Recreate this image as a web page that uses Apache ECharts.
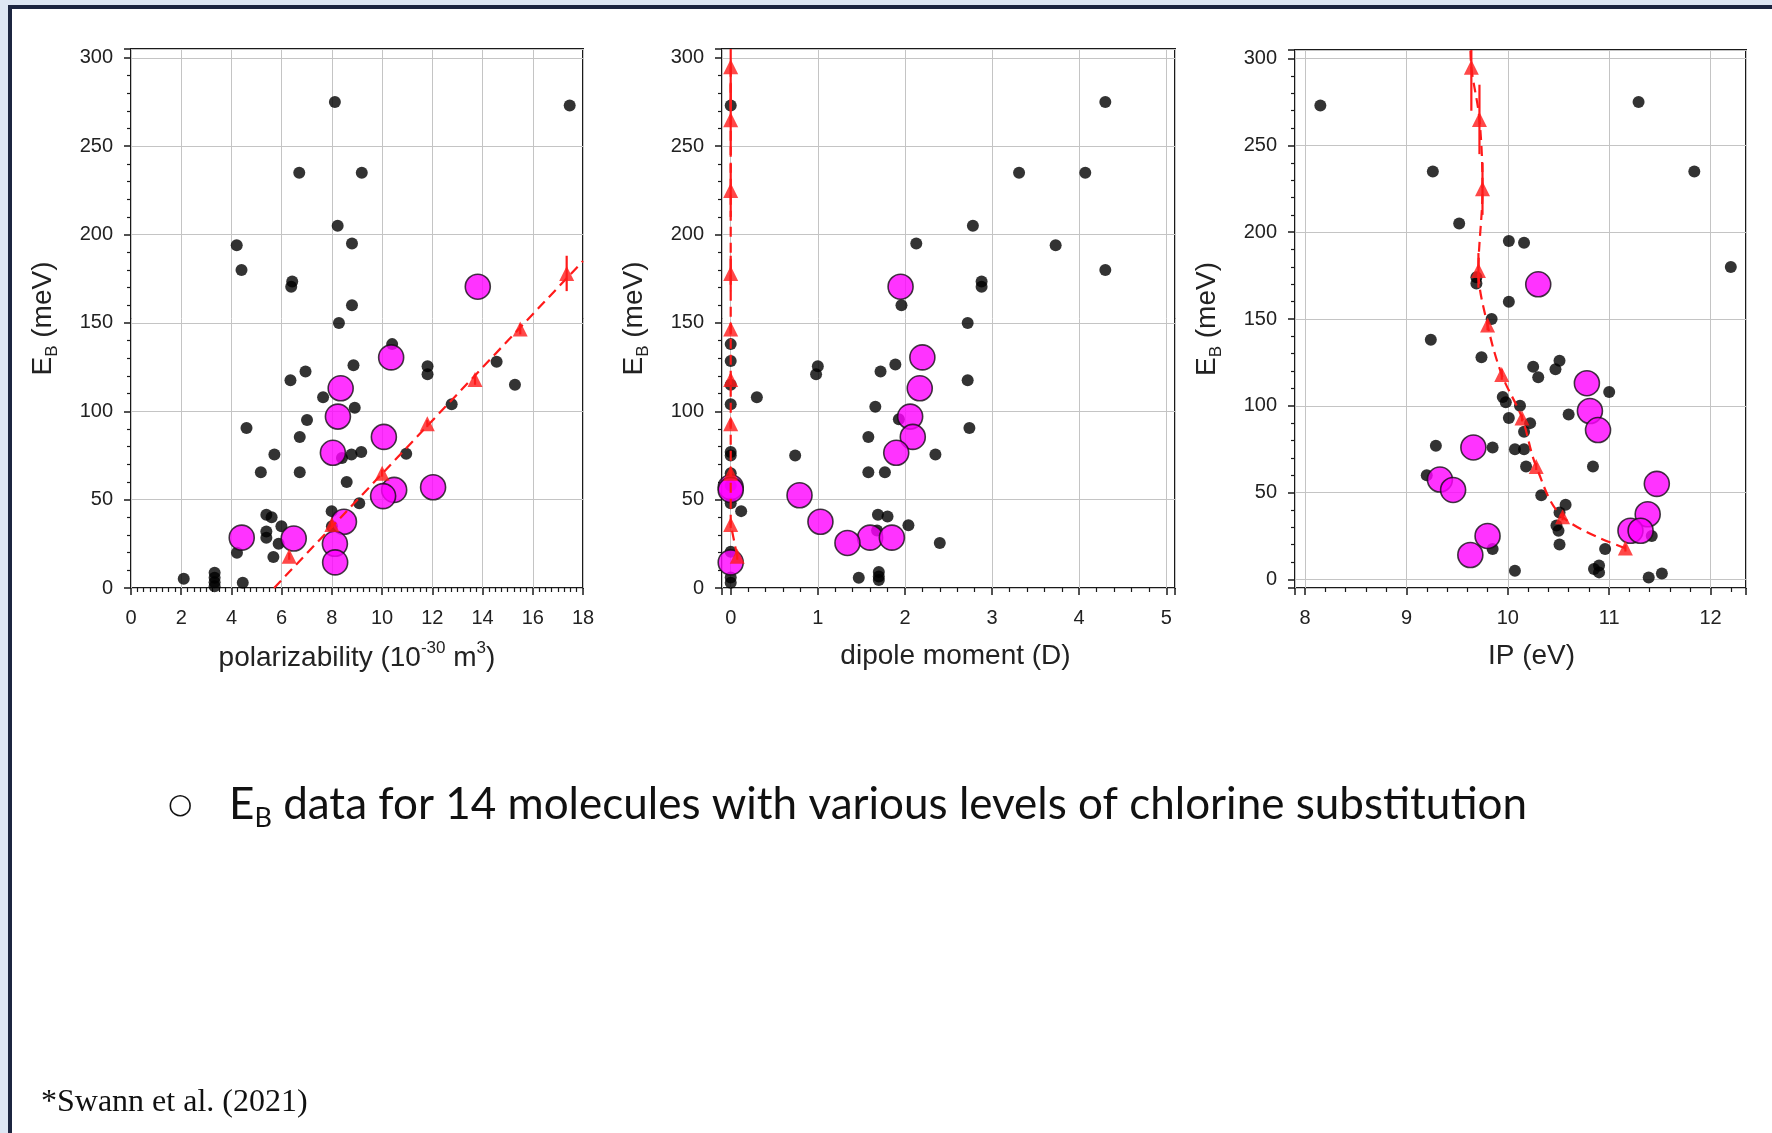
<!DOCTYPE html>
<html>
<head>
<meta charset="utf-8">
<script src="https://cdn.jsdelivr.net/npm/echarts@6/dist/echarts.min.js"></script>
<style>
  html, body { margin: 0; padding: 0; background: #ffffff; }
  #chart { width: 1772px; height: 1133px; }
</style>
</head>
<body>
<div id="chart"></div>
<script>
// ---- binding energy E_B (meV) of all molecules, against three descriptors ----
const polarBlackX = [8.12, 17.47, 6.70, 9.19, 8.23, 4.21, 8.80, 4.40, 6.42, 6.38, 8.80, 8.28, 10.40, 11.81, 11.81, 14.56, 8.86, 6.95, 6.35, 15.29, 7.65, 12.77, 8.91, 7.01, 4.60, 6.72, 5.71, 8.78, 9.17, 10.96, 8.40, 5.17, 6.72, 8.59, 9.09, 7.99, 5.39, 5.60, 8.00, 5.39, 5.39, 5.99, 5.88, 4.22, 5.67, 2.10, 3.33, 3.33, 3.33, 3.33, 4.45];
const polarBlackY = [275, 273, 235, 235, 205, 194, 195, 180, 173.5, 170.5, 160, 150, 138, 125.5, 121, 128, 126, 122.5, 117.5, 115, 108, 104, 102, 95, 90.5, 85.5, 75.5, 75.5, 77, 76, 73.5, 65.5, 65.5, 60, 48, 43.5, 41.5, 40, 35, 32, 28.5, 35, 25, 20, 17.5, 5.3, 8.6, 5.8, 3.3, 1, 3];

const dipoleBlackX = [4.30, 0, 3.31, 4.07, 2.78, 2.13, 3.73, 4.30, 2.88, 2.88, 1.96, 2.72, 0, 0, 1.00, 0.98, 1.89, 1.72, 2.72, 0, 0.30, 0, 1.66, 1.93, 2.74, 1.58, 0.74, 0, 0, 2.35, 1.58, 1.77, 0, 0, 0, 0.12, 1.69, 1.80, 2.04, 1.68, 2.40, 0, 0, 0, 1.47, 1.70, 1.70, 1.70];
const dipoleBlackY = [275, 273, 235, 235, 205, 195, 194, 180, 173.5, 170.5, 160, 150, 138, 128.5, 125.5, 121, 126.5, 122.5, 117.5, 115, 108, 104, 102.5, 95.5, 90.5, 85.5, 75, 77, 75, 75.5, 65.5, 65.5, 65, 58, 48, 43.5, 41.5, 40.5, 35.5, 32.5, 25.5, 20.5, 6, 3, 5.8, 9, 6.5, 4.5];

const ipBlackX = [8.15, 11.29, 9.26, 11.84, 9.52, 10.01, 10.16, 12.20, 9.69, 9.69, 10.01, 9.84, 9.24, 10.51, 10.47, 10.25, 9.74, 10.30, 11.00, 9.95, 9.98, 10.12, 10.60, 10.22, 10.01, 10.16, 9.29, 9.85, 10.07, 10.16, 10.18, 10.84, 9.20, 10.33, 10.57, 10.51, 10.48, 10.50, 10.51, 9.85, 10.96, 11.42, 10.07, 10.85, 10.90, 10.90, 11.39, 11.52];
const ipBlackY = [273, 275, 235, 235, 205, 195, 194, 180, 174, 170.5, 160, 150, 138, 126, 121, 122.5, 128, 116.5, 108, 105, 102, 100, 95, 90, 93, 85, 77, 76, 75, 75, 65, 65, 60, 48.5, 43, 38.5, 31, 28, 20, 17.5, 17.5, 25, 5, 6, 8, 4, 1, 3.3];

// ---- the 14 chlorine-substituted molecules ----
const polarClX = [13.81, 10.36, 8.35, 8.24, 10.07, 8.04, 12.03, 10.48, 10.04, 8.48, 4.41, 6.48, 8.12, 8.13];
const polarClY = [170.5, 130.5, 113, 97, 85.5, 76.5, 57, 55.5, 52, 37.5, 28.5, 28, 25, 14.5];
const dipoleClX = [1.95, 2.20, 2.17, 2.06, 2.09, 1.90, 0, 0, 0.79, 1.03, 1.60, 1.85, 1.34, 0];
const dipoleClY = [170.5, 130.5, 113, 97, 85.5, 76.5, 57, 55.5, 52.5, 37.5, 28.5, 28.5, 25.5, 14.5];
const ipClX = [10.30, 10.78, 10.81, 10.89, 9.66, 11.47, 9.33, 9.46, 11.38, 11.21, 11.31, 9.80, 9.63];
const ipClY = [170, 113, 97, 86, 76, 55, 57.5, 51.5, 37.5, 28, 28, 25, 14];

// ---- model series (red triangles) with uncertainties ----
const modelEB = [18, 36, 65, 93, 118, 146.5, 178, 225, 265, 295];
const modelErr = [2, 2, 2, 2, 3, 3, 10, 15, 20, 25];
const modelPolar = [6.3, 8.0, 10.0, 11.8, 13.7, 15.5, 17.35];
const modelDipole = [0.075, 0, 0, 0, 0, 0, 0, 0, 0, 0];
const modelIP = [11.16, 10.54, 10.28, 10.14, 9.94, 9.80, 9.71, 9.75, 9.72, 9.64];

// dashed trend through the model points
const polarTrendX = [5.7, 18];
const polarTrendY = [0, 185];
const ipTrendTopX = [9.63];
const ipTrendTopY = [310];

// tick labels
const polarTicks = [0, 2, 4, 6, 8, 10, 12, 14, 16, 18];
const dipoleTicks = [0, 1, 2, 3, 4, 5];
const ipTicks = [8, 9, 10, 11, 12];
const ebTicks = [0, 50, 100, 150, 200, 250, 300];

const pairs = (xs, ys) => xs.map((x, i) => [x, ys[i]]);
const triples = (xs, ys, es) => xs.map((x, i) => [x, ys[i], es[i]]);

const AXIS_FONT = '"Liberation Sans", Arial, sans-serif';
const RED = '#ff1a1a';

const panels = [
  { box: { left: 131, top: 49, width: 452, height: 539 },
    x: { min: 0, max: 18, interval: 2, minor: 8, ticks: polarTicks, gap: 52,
         name: '{t|polarizability (10}{sup|-30}{t| m}{sup|3}{t|)}', pad: [0, 0, 0, 0] },
    y: { min: 0, max: 305, interval: 50 } },
  { box: { left: 722, top: 49, width: 453, height: 539 },
    x: { min: -0.1, max: 5.1, minor: 5, ticks: dipoleTicks, gap: 50,
         name: '{t|dipole moment (D)}', pad: [0, 0, 0, 14] },
    y: { min: 0, max: 305, interval: 50 } },
  { box: { left: 1295, top: 50, width: 451, height: 538 },
    x: { min: 7.9, max: 12.35, minor: 5, ticks: ipTicks, gap: 50,
         name: '{t|IP (eV)}', pad: [0, 0, 0, 22] },
    y: { min: -5, max: 305 } }
];

const richName = {
  t: { fontSize: 28, fontFamily: AXIS_FONT, color: '#222', lineHeight: 36 },
  sup: { fontSize: 17, fontFamily: AXIS_FONT, color: '#222', verticalAlign: 'top', lineHeight: 20 },
  sub: { fontSize: 17, fontFamily: AXIS_FONT, color: '#222', verticalAlign: 'bottom', lineHeight: 17 }
};

const grid = [], xAxis = [], yAxis = [], series = [];

panels.forEach((p, i) => {
  grid.push(Object.assign({ show: true, borderColor: '#1a1a1a', borderWidth: 2, backgroundColor: '#fff', containLabel: false }, p.box));
  const common = {
    gridIndex: i,
    type: 'value',
    axisLine: { show: false, onZero: false },
    axisTick: { show: true, inside: false, length: 7, lineStyle: { color: '#1a1a1a', width: 1.5 } },
    minorTick: { show: true, length: 4, lineStyle: { color: '#1a1a1a', width: 1.2 } },
    splitLine: { show: true, lineStyle: { color: '#c4c4c4', width: 1 } },
    minorSplitLine: { show: false },
    axisLabel: { fontSize: 20, fontFamily: AXIS_FONT, color: '#222', showMinLabel: false, showMaxLabel: false }
  };
  const xa = Object.assign({}, common, {
    min: p.x.min, max: p.x.max,
    name: p.x.name, nameLocation: 'middle', nameGap: p.x.gap,
    nameTextStyle: { rich: richName, padding: p.x.pad },
    minorTick: Object.assign({}, common.minorTick, { splitNumber: p.x.minor }),
    axisLabel: Object.assign({}, common.axisLabel, { margin: 20,
      showMinLabel: p.x.ticks.indexOf(p.x.min) >= 0,
      showMaxLabel: p.x.ticks.indexOf(p.x.max) >= 0 })
  });
  if (p.x.interval) xa.interval = p.x.interval;
  xAxis.push(xa);
  const ya = Object.assign({}, common, {
    min: p.y.min, max: p.y.max,
    name: '{t|E}{sub|B}{t| (meV)}', nameLocation: 'middle', nameGap: 70, nameRotate: 90,
    nameTextStyle: { rich: richName },
    minorTick: Object.assign({}, common.minorTick, { splitNumber: 5 }),
    axisLabel: Object.assign({}, common.axisLabel, { margin: 18, showMinLabel: p.y.min === 0, showMaxLabel: false })
  });
  if (p.y.interval) ya.interval = p.y.interval;
  yAxis.push(ya);
});

function dots(i, xs, ys) {
  return { type: 'scatter', xAxisIndex: i, yAxisIndex: i, data: pairs(xs, ys), clip: false,
    symbol: 'circle', symbolSize: 12, itemStyle: { color: '#000' }, z: 2, silent: true };
}
function clDots(i, xs, ys) {
  return { type: 'scatter', xAxisIndex: i, yAxisIndex: i, data: pairs(xs, ys), clip: false,
    symbol: 'circle', symbolSize: 25, itemStyle: { color: '#ff00ff', borderColor: '#111', borderWidth: 1.6 }, z: 3, silent: true };
}
function trend(i, data, smooth) {
  return { type: 'line', xAxisIndex: i, yAxisIndex: i, data: data, showSymbol: false, smooth: smooth || false,
    clip: true, lineStyle: { color: RED, width: 2.2, type: [10, 6] }, z: 4, silent: true };
}
function triangles(i, xs, ys) {
  return { type: 'scatter', xAxisIndex: i, yAxisIndex: i, data: pairs(xs, ys), clip: true,
    symbol: 'triangle', symbolSize: 15, itemStyle: { color: RED }, z: 5, silent: true };
}
function errBars(i, xs, ys, es) {
  return { type: 'custom', xAxisIndex: i, yAxisIndex: i, data: triples(xs, ys, es), clip: true, z: 5, silent: true,
    renderItem: (params, api) => {
      const x = api.value(0), y = api.value(1), e = api.value(2);
      const a = api.coord([x, y - e]), b = api.coord([x, y + e]);
      return { type: 'line', shape: { x1: a[0], y1: a[1], x2: b[0], y2: b[1] },
        style: { stroke: RED, lineWidth: 2.2 } };
    } };
}

const nPolar = modelPolar.length;
series.push(
  dots(0, polarBlackX, polarBlackY),
  clDots(0, polarClX, polarClY),
  trend(0, pairs(polarTrendX, polarTrendY)),
  errBars(0, modelPolar, modelEB.slice(0, nPolar), modelErr.slice(0, nPolar)),
  triangles(0, modelPolar, modelEB.slice(0, nPolar)),

  dots(1, dipoleBlackX, dipoleBlackY),
  clDots(1, dipoleClX, dipoleClY),
  trend(1, pairs(modelDipole, modelEB)),
  errBars(1, modelDipole, modelEB, modelErr),
  triangles(1, modelDipole, modelEB),

  dots(2, ipBlackX, ipBlackY),
  clDots(2, ipClX, ipClY),
  trend(2, pairs(modelIP.concat(ipTrendTopX), modelEB.concat(ipTrendTopY)), 0.35),
  errBars(2, modelIP, modelEB, modelErr),
  triangles(2, modelIP, modelEB)
);

const graphic = [
  // slide frame
  { type: 'rect', shape: { x: 0, y: 0, width: 1772, height: 5 }, style: { fill: '#dde6f3' }, silent: true },
  { type: 'rect', shape: { x: 0, y: 0, width: 8, height: 1133 }, style: { fill: '#dde6f3' }, silent: true },
  { type: 'rect', shape: { x: 8, y: 5, width: 1764, height: 4 }, style: { fill: '#1c2540' }, silent: true },
  { type: 'rect', shape: { x: 8, y: 5, width: 4, height: 1128 }, style: { fill: '#1c2540' }, silent: true },
  // bullet line
  { type: 'text', x: 168, y: 806, silent: true,
    style: { text: '\u25CB', font: '28px "DejaVu Sans", sans-serif', fill: '#111', verticalAlign: 'middle' } },
  { type: 'text', x: 229, y: 805, silent: true,
    style: {
      text: '{e|E}{b|B}{e| data for 14 molecules with various levels of chlorine substitution}',
      verticalAlign: 'middle',
      rich: {
        e: { font: '44px Lato, "Open Sans", sans-serif', fill: '#111', lineHeight: 54 },
        b: { font: '27px Lato, "Open Sans", sans-serif', fill: '#111', verticalAlign: 'bottom', lineHeight: 40 }
      }
    } },
  // citation
  { type: 'text', x: 41, y: 1103, silent: true,
    style: { text: '*Swann et al. (2021)', font: '32px "Liberation Serif", "Times New Roman", serif', fill: '#111', verticalAlign: 'middle' } }
];

const chart = echarts.init(document.getElementById('chart'), null, { renderer: 'canvas' });
chart.setOption({
  backgroundColor: '#ffffff',
  animation: false,
  grid: grid,
  xAxis: xAxis,
  yAxis: yAxis,
  series: series,
  graphic: graphic
});
</script>
</body>
</html>
